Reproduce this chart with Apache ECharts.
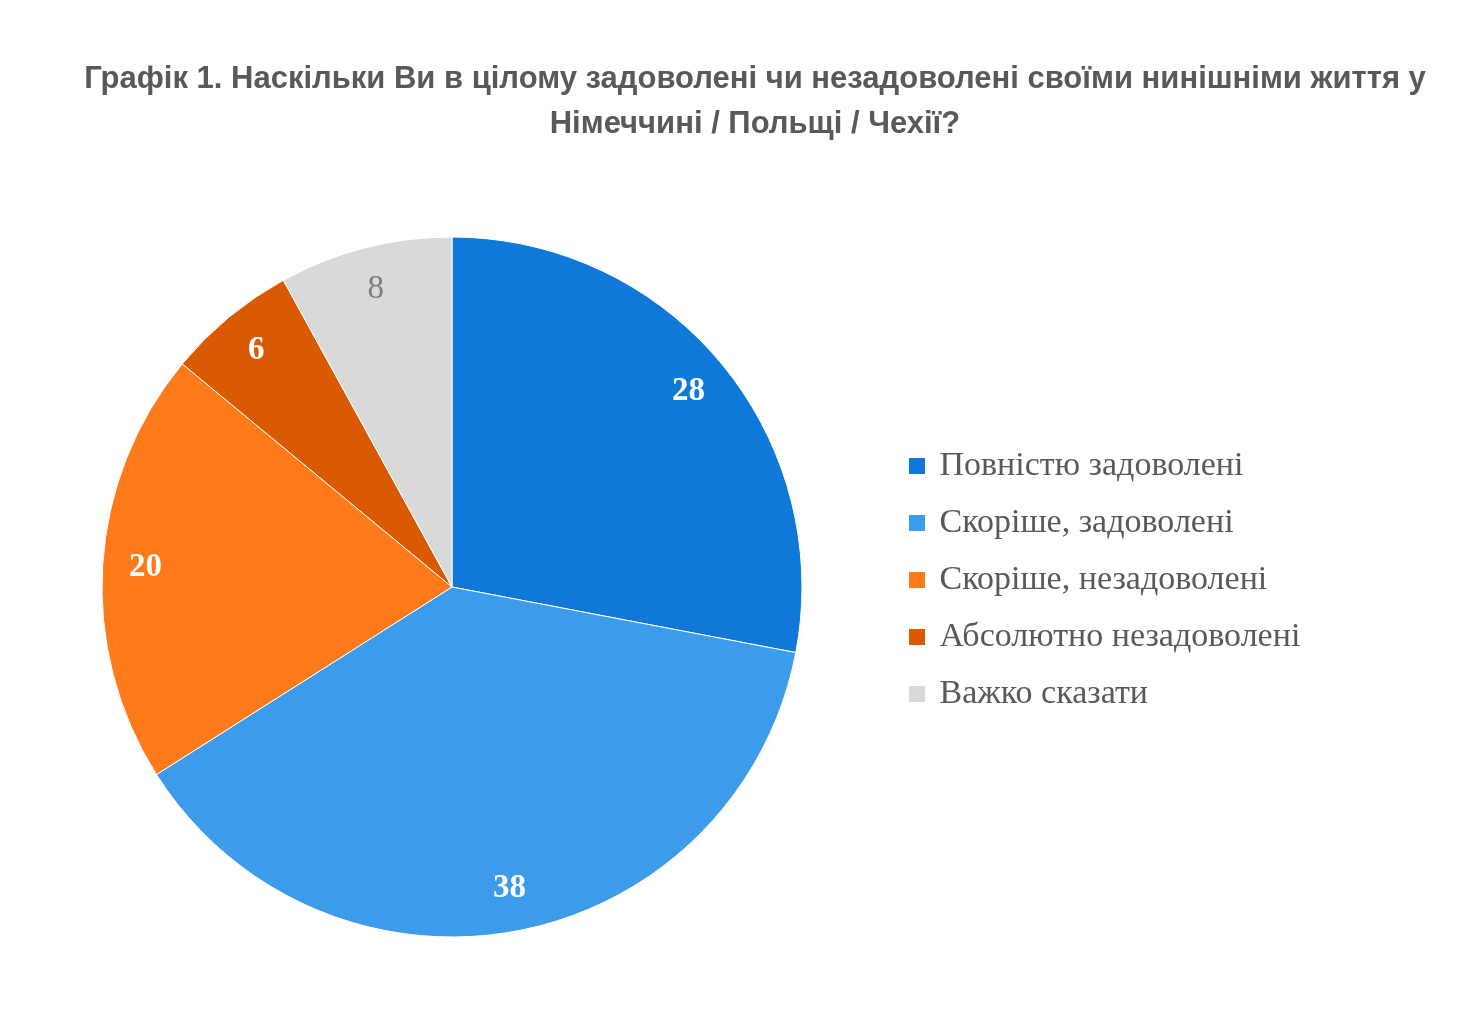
<!DOCTYPE html>
<html>
<head>
<meta charset="utf-8">
<script src="https://cdn.jsdelivr.net/npm/echarts@6/dist/echarts.min.js"></script>
<style>
  html, body { margin: 0; padding: 0; background: #fff; }
  #pie { width: 1480px; height: 1013px; }
</style>
</head>
<body>
<div id="pie"></div>
<script>
// 数据
var categories = ['Повністю задоволені', 'Скоріше, задоволені', 'Скоріше, незадоволені', 'Абсолютно незадоволені', 'Важко сказати'];
var values = [28, 38, 20, 6, 8];
var colors = ['#0f78d8', '#3d9bec', '#ff7a1a', '#d95a00', '#d9d9d9'];
var labelColors = ['#fff', '#fff', '#fff', '#fff', '#7f7f7f'];
var labelWeights = ['bold', 'bold', 'bold', 'bold', 'normal'];

var myChart = echarts.init(document.getElementById('pie'));

var sliceData = categories.map(function (name, i) {
    return { name: name, value: values[i], itemStyle: { color: colors[i] } };
});
// прозорий шар лише для підписів
var labelData = categories.map(function (name, i) {
    return {
        name: name, value: values[i],
        itemStyle: { color: 'rgba(0,0,0,0)' },
        label: { color: labelColors[i], fontWeight: labelWeights[i] }
    };
});

var option = {
    animation: false,
    title: {
        text: 'Графік 1. Наскільки Ви в цілому задоволені чи незадоволені своїми нинішніми життя у\nНімеччині / Польщі / Чехії?',
        left: 750,
        textAlign: 'center',
        top: 52,
        textStyle: {
            fontFamily: 'Liberation Sans, Arial, sans-serif',
            fontSize: 31,
            fontWeight: 'bold',
            color: '#595959',
            lineHeight: 45
        }
    },
    legend: {
        orient: 'vertical',
        left: 902,
        top: 444,
        icon: 'rect',
        itemWidth: 18,
        itemHeight: 18,
        itemGap: 23,
        data: categories,
        formatter: function (name) { return ' ' + name; },
        textStyle: {
            fontFamily: 'Liberation Serif, Times New Roman, serif',
            fontSize: 34,
            lineHeight: 34,
            color: '#595959'
        }
    },
    series: [{
        type: 'pie',
        center: [452, 587],
        radius: [0, 350],
        startAngle: 90,
        clockwise: true,
        silent: true,
        label: { show: false },
        labelLine: { show: false },
        itemStyle: { borderColor: '#fff', borderWidth: 1 },
        data: sliceData
    }, {
        type: 'pie',
        center: [452, 587],
        radius: [258, 350],
        startAngle: 90,
        clockwise: true,
        silent: true,
        legendHoverLink: false,
        label: {
            show: true,
            position: 'inside',
            formatter: '{c}',
            fontFamily: 'Liberation Serif, Times New Roman, serif',
            fontSize: 33
        },
        labelLine: { show: false },
        data: labelData
    }]
};

myChart.setOption(option);
</script>
</body>
</html>
